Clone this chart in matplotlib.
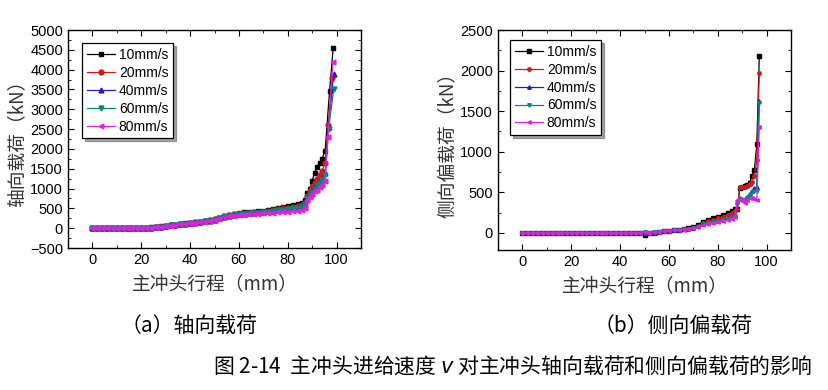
import matplotlib
matplotlib.use('Agg')
import matplotlib.pyplot as plt
from matplotlib.ticker import MultipleLocator

plt.rcParams['font.family'] = ['Liberation Sans', 'Noto Sans CJK SC']

labels = ['10mm/s', '20mm/s', '40mm/s', '60mm/s', '80mm/s']
colors = ['#000000', '#d81818', '#2020c0', '#008878', '#e020e0']
markers = ['s', 'o', '^', 'v', '<']

# common stroke grid (mm) for the low part of every curve
x_early = [0, 2, 4, 6, 8, 10, 12, 14, 16, 18, 20, 22, 24, 26, 28, 30, 32, 34, 36, 38, 40, 42,
           44, 46, 48, 50, 52, 54, 56, 58, 60, 62, 64, 66, 68, 70, 72, 74, 76, 78, 80, 82, 84, 86]

# (a) axial load, kN
axial_early = {
    '10mm/s': [0, 0, 0, 0, 0, 0, 0, 0, 0, 0, 5, 10, 20, 30, 45, 60, 75, 90, 105, 120, 135, 150,
               165, 180, 200, 230, 270, 310, 340, 370, 385, 400, 410, 420, 430, 440, 460, 490, 520, 540, 560, 580, 600, 630],
    '20mm/s': [0, 0, 0, 0, 0, 0, 0, 0, 0, 0, 5, 10, 18, 28, 42, 58, 72, 88, 102, 118, 132, 148,
               160, 175, 195, 225, 262, 300, 330, 355, 370, 385, 395, 405, 412, 420, 440, 465, 490, 505, 520, 540, 560, 580],
    '40mm/s': [0, 0, 0, 0, 0, 0, 0, 0, 0, 0, 5, 8, 16, 26, 40, 55, 70, 85, 100, 115, 128, 142,
               155, 170, 190, 220, 255, 290, 320, 340, 355, 370, 380, 390, 400, 410, 425, 445, 465, 480, 495, 515, 535, 560],
    '60mm/s': [0, 0, 0, 0, 0, 0, 0, 0, 0, 0, 5, 8, 16, 26, 40, 55, 70, 85, 100, 115, 128, 142,
               155, 170, 188, 218, 250, 285, 315, 335, 350, 362, 372, 382, 392, 402, 415, 435, 455, 470, 485, 505, 520, 545],
    '80mm/s': [0, 0, 0, 0, 0, 0, 0, 0, 0, 0, 3, 6, 14, 24, 38, 52, 66, 80, 95, 110, 122, 136,
               150, 165, 182, 210, 240, 275, 300, 320, 335, 345, 355, 362, 370, 378, 385, 395, 405, 415, 420, 430, 445, 470],
}
axial_tail_x = {
    '10mm/s': [87, 88, 89, 90, 91, 92, 93, 94, 95.3, 97.1, 98.6],
    '20mm/s': [87, 88, 89, 90, 91, 92, 93, 94, 95.3, 96.5, 98.3],
    '40mm/s': [87, 88, 89, 90, 91, 92, 93, 94, 95.3, 96.7, 98.8],
    '60mm/s': [87, 88, 89, 90, 91, 92, 93, 94, 95.3, 96.7, 98.8],
    '80mm/s': [87, 88, 89, 90, 91, 92, 93, 94, 95.3, 96.5, 98.5],
}
axial_tail = {
    '10mm/s': [700, 880, 1000, 1200, 1400, 1550, 1650, 1750, 1950, 3450, 4550],
    '20mm/s': [640, 820, 950, 1050, 1150, 1250, 1350, 1450, 1650, 2600, 3800],
    '40mm/s': [620, 780, 850, 950, 1050, 1100, 1200, 1250, 1400, 2550, 3900],
    '60mm/s': [600, 760, 830, 920, 1000, 1080, 1150, 1220, 1350, 2500, 3500],
    '80mm/s': [520, 700, 800, 860, 930, 970, 1050, 1100, 1200, 2300, 4200],
}

# (b) lateral eccentric load, kN
lateral_early = {
    '10mm/s': [0, 0, 0, 0, 0, 0, 0, 0, 0, 0, 0, 0, 0, 0, 0, 0, 0, 0, 0, 0, 0, 0,
               0, 0, 0, -20, 0, 5, 15, 25, 30, 35, 40, 50, 55, 70, 100, 140, 160, 180, 200, 220, 250, 270],
    '20mm/s': [0, 0, 0, 0, 0, 0, 0, 0, 0, 0, 0, 0, 0, 0, 0, 0, 0, 0, 0, 0, 0, 0,
               0, 0, 0, 5, 0, 5, 15, 25, 30, 35, 40, 48, 52, 65, 90, 125, 145, 160, 180, 200, 225, 250],
    '40mm/s': [0, 0, 0, 0, 0, 0, 0, 0, 0, 0, 0, 0, 0, 0, 0, 0, 0, 0, 0, 0, 0, 0,
               0, 0, 5, 15, 5, 8, 15, 25, 30, 35, 40, 45, 50, 60, 80, 110, 125, 140, 150, 165, 180, 200],
    '60mm/s': [0, 0, 0, 0, 0, 0, 0, 0, 0, 0, 0, 0, 0, 0, 0, 0, 0, 0, 0, 0, 0, 0,
               0, 0, 5, 10, 5, 8, 15, 25, 30, 35, 40, 45, 50, 60, 78, 105, 120, 135, 148, 160, 175, 190],
    '80mm/s': [0, 0, 0, 0, 0, 0, 0, 0, 0, 0, 0, 0, 0, 0, 0, 0, 0, 0, 0, 0, 0, 0,
               0, 0, 5, 10, 5, 8, 15, 22, 28, 32, 38, 42, 48, 55, 75, 100, 115, 125, 140, 150, 160, 170],
}
lateral_tail_x = [87, 88, 89, 90, 91, 92, 93, 94, 95, 96, 97]
lateral_tail = {
    '10mm/s': [290, 300, 550, 570, 580, 590, 620, 700, 780, 1100, 2180],
    '20mm/s': [270, 300, 560, 560, 570, 580, 600, 630, 700, 900, 1970],
    '40mm/s': [220, 380, 430, 420, 420, 440, 480, 520, 550, 560, 1620],
    '60mm/s': [210, 370, 420, 410, 410, 430, 470, 500, 520, 520, 1600],
    '80mm/s': [200, 400, 410, 400, 370, 400, 430, 430, 420, 400, 1300],
}

cjk = ['Noto Sans CJK SC', 'DejaVu Sans']

fig = plt.figure(figsize=(8.29, 3.9), dpi=100)
ax1 = fig.add_axes([0.082, 0.364, 0.3535, 0.559])
ax2 = fig.add_axes([0.6007, 0.359, 0.3535, 0.564])

for i, lab in enumerate(labels):
    ax1.plot(x_early + axial_tail_x[lab], axial_early[lab] + axial_tail[lab], color=colors[i],
             marker=markers[i], markersize=3.5, linewidth=0.9, label=lab)
    ax2.plot(x_early + lateral_tail_x, lateral_early[lab] + lateral_tail[lab], color=colors[i],
             marker=markers[i], markersize=2.5, linewidth=0.9, label=lab)

ax1.set_xlim(-10, 110)
ax1.set_ylim(-500, 5000)
ax1.yaxis.set_major_locator(MultipleLocator(500))
ax1.yaxis.set_minor_locator(MultipleLocator(250))
ax2.set_xlim(-10, 110)
ax2.set_ylim(-210, 2500)
ax2.yaxis.set_major_locator(MultipleLocator(500))
ax2.yaxis.set_minor_locator(MultipleLocator(250))

anchors = [(0.048, 0.94), (0.041, 0.955)]
for ax, anc in zip((ax1, ax2), anchors):
    ax.xaxis.set_major_locator(MultipleLocator(20))
    ax.xaxis.set_minor_locator(MultipleLocator(10))
    ax.tick_params(which='both', direction='in', top=True, right=True, labelsize=10.5)
    ax.tick_params(which='major', length=4)
    ax.tick_params(which='minor', length=2)
    for s in ax.spines.values():
        s.set_linewidth(1.0)
    ax.set_xlabel('主冲头行程（mm）', fontsize=13.5, color='#333333', family=cjk, labelpad=5)
    leg = ax.legend(loc='upper left', bbox_to_anchor=anc, borderaxespad=0, fontsize=10,
                    shadow=True, fancybox=False, edgecolor='black', handlelength=2.0,
                    borderpad=0.35, labelspacing=0.28, handletextpad=0.3, framealpha=1)
    leg.get_frame().set_linewidth(0.9)

ax1.set_ylabel('轴向载荷（kN）', fontsize=13.5, color='#333333', labelpad=2, family=cjk)
ax2.set_ylabel('侧向偏载荷（kN）', fontsize=13.5, color='#333333', labelpad=2, family=cjk)

fig.text(0.228, 0.165, '（a）轴向载荷', ha='center', va='center', fontsize=15, family=cjk)
fig.text(0.812, 0.165, '（b）侧向偏载荷', ha='center', va='center', fontsize=15, family=cjk)
fig.text(0.618, 0.062, '图 2-14  主冲头进给速度 $v$ 对主冲头轴向载荷和侧向偏载荷的影响',
         ha='center', va='center', fontsize=15, family=cjk)

fig.savefig('out.png', dpi=100)
